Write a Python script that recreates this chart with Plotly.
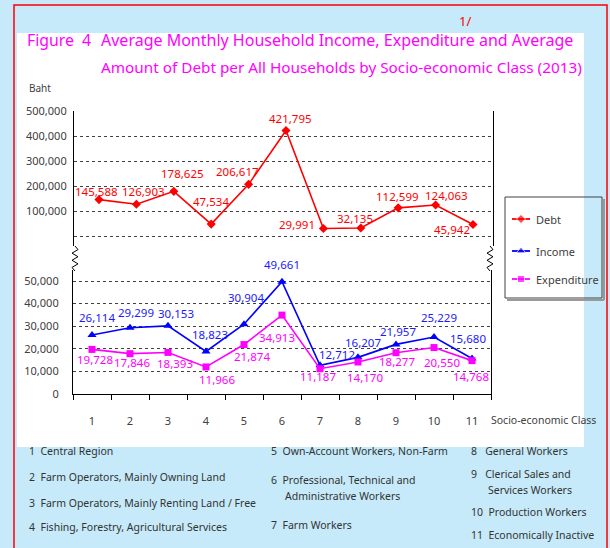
import plotly.graph_objects as go

W, H = 610, 548

classes = [str(i) for i in range(1, 12)]
debt = [145588, 126903, 178625, 47534, 206617, 421795, 29991, 32135, 112599, 124063, 45942]
income = [26114, 29299, 30153, 18823, 30904, 49661, 12712, 16207, 21957, 25229, 15680]
expenditure = [19728, 17846, 18393, 11966, 21874, 34913, 11187, 14170, 18277, 20550, 14768]
debt_ticks = [0, 100000, 200000, 300000, 400000, 500000]
low_ticks = [0, 10000, 20000, 30000, 40000, 50000]
series_names = ["Debt", "Income", "Expenditure"]

class_names_col1 = ["1  Central Region",
                    "2  Farm Operators, Mainly Owning Land",
                    "3  Farm Operators, Mainly Renting Land / Free",
                    "4  Fishing, Forestry, Agricultural Services"]
class_names_col2 = ["5  Own-Account Workers, Non-Farm",
                    "6  Professional, Technical and",
                    "Administrative Workers",
                    "7  Farm Workers"]
class_names_col3 = ["8   General Workers",
                    "9   Clerical Sales and",
                    "Services Workers",
                    "10  Production Workers",
                    "11  Economically Inactive"]

# label pixel offsets (xshift, yshift)
debt_off = [(-3, 8), (7, 13), (9, 18), (0, 23), (-11, 13), (4, 12), (-26, 4), (-6, 9), (-1, 11), (11, 9), (-21, -5)]
inc_off = [(5, 17), (6, 15), (8, 12), (4, 17), (2, 27), (0, 17), (17, 11), (5, 15), (2, 13), (5, 19), (-4, 20)]
exp_off = [(3, -10), (2, -9), (7, -11), (11, -13), (8, -12), (-5, -22), (-2, -8), (7, -16), (1, -9), (8, -15), (-1, -16)]

RED = "#FF0000"
BLUE = "#0000FF"
MAG = "#FF00FF"
BG = "#C6EAF9"
FONT = "Noto Sans"
COLORS = [RED, BLUE, MAG]
SYMBOLS = ["diamond", "triangle-up", "square"]
MSIZES = [7, 8, 7]


def px(x):
    return x / W


def py(y):
    return 1 - y / H


fig = go.Figure()

fig.add_trace(go.Scatter(
    x=list(range(1, 12)), y=debt, name="Debt", mode="lines+markers",
    xaxis="x2", yaxis="y2", showlegend=False,
    line=dict(color=RED, width=1.6), marker=dict(symbol="diamond", size=7, color=RED),
    cliponaxis=False))
fig.add_trace(go.Scatter(
    x=classes, y=income, name="Income", mode="lines+markers",
    xaxis="x", yaxis="y", showlegend=False,
    line=dict(color=BLUE, width=1.6), marker=dict(symbol="triangle-up", size=8, color=BLUE),
    cliponaxis=False))
fig.add_trace(go.Scatter(
    x=classes, y=expenditure, name="Expenditure", mode="lines+markers",
    xaxis="x", yaxis="y", showlegend=False,
    line=dict(color=MAG, width=1.6), marker=dict(symbol="square", size=7, color=MAG),
    cliponaxis=False))

# legend drawn on its own small axis (pixel-like units inside the legend box)
leg_rows = [22, 54, 82]
ann = []
for k, nm in enumerate(series_names):
    fig.add_trace(go.Scatter(
        x=[7, 16, 25], y=[leg_rows[k]] * 3, mode="lines+markers", xaxis="x3", yaxis="y3",
        showlegend=False, hoverinfo="skip",
        line=dict(color=COLORS[k], width=1.8),
        marker=dict(symbol=SYMBOLS[k], size=[0, MSIZES[k], 0], color=COLORS[k]),
        cliponaxis=False))
    ann.append(dict(x=29, y=leg_rows[k], xref="x3", yref="y3", text=nm, showarrow=False,
                    xanchor="left", yanchor="middle",
                    font=dict(family=FONT, size=11, color="#404040")))

for i, v in enumerate(debt):
    ann.append(dict(x=i + 1, y=v, xref="x2", yref="y2", text=f"{v:,}", showarrow=False,
                    xshift=debt_off[i][0], yshift=debt_off[i][1],
                    font=dict(family=FONT, size=11.5, color=RED)))
for i, v in enumerate(income):
    ann.append(dict(x=i, y=v, xref="x", yref="y", text=f"{v:,}", showarrow=False,
                    xshift=inc_off[i][0], yshift=inc_off[i][1],
                    font=dict(family=FONT, size=11.5, color="#1a1aff")))
for i, v in enumerate(expenditure):
    ann.append(dict(x=i, y=v, xref="x", yref="y", text=f"{v:,}", showarrow=False,
                    xshift=exp_off[i][0], yshift=exp_off[i][1],
                    font=dict(family=FONT, size=11.5, color=MAG)))


def txt(x, y, s, size=11, color="#333333", anchor="left"):
    ann.append(dict(x=px(x), y=py(y), xref="paper", yref="paper", text=s, showarrow=False,
                    xanchor=anchor, yanchor="middle",
                    font=dict(family=FONT, size=size, color=color)))


# titles
txt(25, 40, "Figure", 15.8, MAG)
txt(80, 40, "4", 15.8, MAG)
txt(99, 40, "Average Monthly Household Income, Expenditure and Average", 16, MAG)
txt(99, 67, "Amount of Debt per All Households by Socio-economic Class (2013)", 15.3, MAG)
txt(457, 21, "1/", 13, RED)
txt(27, 88, "Baht", 10, "#404040")
txt(489, 420, "Socio-economic Class", 10.5, "#404040")

# class descriptions
for s, y in zip(class_names_col1, [451, 477, 503, 527]):
    txt(27, y, s, 10.5)
for s, (x, y) in zip(class_names_col2, [(269, 451), (269, 480), (283, 496), (269, 525)]):
    txt(x, y, s, 10.5)
for s, (x, y) in zip(class_names_col3, [(469, 451), (469, 474), (486, 490), (469, 512), (469, 535)]):
    txt(x, y, s, 10.5)

shapes = [
    dict(type="rect", xref="paper", yref="paper", x0=px(17), x1=px(584), y0=py(447), y1=py(33),
         fillcolor="white", line=dict(width=0), layer="below"),
    dict(type="rect", xref="paper", yref="paper", x0=px(14), x1=px(607), y0=-0.05, y1=py(5),
         fillcolor="rgba(0,0,0,0)", line=dict(color=RED, width=1.5), layer="below"),
    # legend box and shadow
    dict(type="rect", xref="paper", yref="paper", x0=px(505), x1=px(602), y0=py(298), y1=py(197),
         fillcolor="rgba(0,0,0,0)", line=dict(color="#404040", width=1)),
    dict(type="line", xref="paper", yref="paper", x0=px(604), x1=px(604), y0=py(300), y1=py(199),
         line=dict(color="#999999", width=2)),
    dict(type="line", xref="paper", yref="paper", x0=px(507), x1=px(604), y0=py(300), y1=py(300),
         line=dict(color="#999999", width=2)),
]


def zigzag(x, y0, y1, n=3, amp=3):
    pts = [(x, y0)]
    step = (y1 - y0) / (2 * n + 1)
    y = y0
    for k in range(2 * n):
        y += step
        pts.append((x + (amp if k % 2 == 0 else -amp), y))
    pts.append((x, y1))
    d = "M " + " L ".join(f"{px(a):.5f},{py(b):.5f}" for a, b in pts)
    return dict(type="path", xref="paper", yref="paper", path=d, line=dict(color="black", width=1))


shapes.append(zigzag(75, 246, 271))
shapes.append(zigzag(490, 246, 271))

fig.update_layout(
    width=W, height=H, margin=dict(l=0, r=0, t=0, b=0, pad=0, autoexpand=False),
    paper_bgcolor=BG, plot_bgcolor="rgba(0,0,0,0)",
    font=dict(family=FONT, color="#404040"),
    showlegend=False,
    xaxis=dict(type="category", categoryorder="array", categoryarray=classes,
               domain=[px(73), px(491)], range=[-0.5, 10.5], anchor="y",
               showline=True, linecolor="black", linewidth=1.2,
               ticks="outside", tickson="boundaries", ticklen=5, tickcolor="black",
               showgrid=False, tickfont=dict(size=11, color="#404040"), ticklabelstandoff=17),
    yaxis=dict(domain=[py(394), py(270)], range=[0, 50000 * (394 - 270) / 113], anchor="x",
               tickvals=low_ticks, ticktext=[f"{t:,}" for t in low_ticks],
               showline=True, mirror=True, linecolor="black", linewidth=1.2,
               showgrid=True, gridcolor="#404040", griddash="dot", gridwidth=1,
               zeroline=False, ticks="", tickfont=dict(size=11, color="#404040"),
               ticklabelstandoff=11),
    xaxis2=dict(domain=[px(74), px(493)], range=[1 - 25 / 37.4, 11 + 20 / 37.4], anchor="y2",
                showline=False, showgrid=False, showticklabels=False, zeroline=False, ticks=""),
    yaxis2=dict(domain=[py(246), py(111)], range=[-40000, 500000], anchor="x2",
                tickvals=debt_ticks, ticktext=[""] + [f"{t:,}" for t in debt_ticks[1:]],
                showline=True, mirror=True, linecolor="black", linewidth=1.2,
                showgrid=True, gridcolor="#404040", griddash="dot", gridwidth=1,
                zeroline=False, ticks="", tickfont=dict(size=11, color="#404040"),
                ticklabelstandoff=4),
    xaxis3=dict(domain=[px(505), px(602)], range=[0, 97], anchor="y3", visible=False,
                fixedrange=True),
    yaxis3=dict(domain=[py(298), py(197)], range=[101, 0], anchor="x3", visible=False,
                fixedrange=True),
    annotations=ann, shapes=shapes,
)

post = (
    "document.documentElement.style.margin='0px';"
    "document.documentElement.style.overflow='hidden';"
    "document.body.style.margin='0px';"
    "document.body.style.overflow='hidden';"
    "var gd=document.getElementsByClassName('plotly-graph-div')[0];"
    "gd.style.position='fixed';gd.style.left='0px';gd.style.top='0px';"
)
fig.write_html("out.html", config={"displayModeBar": False}, post_script=post)
